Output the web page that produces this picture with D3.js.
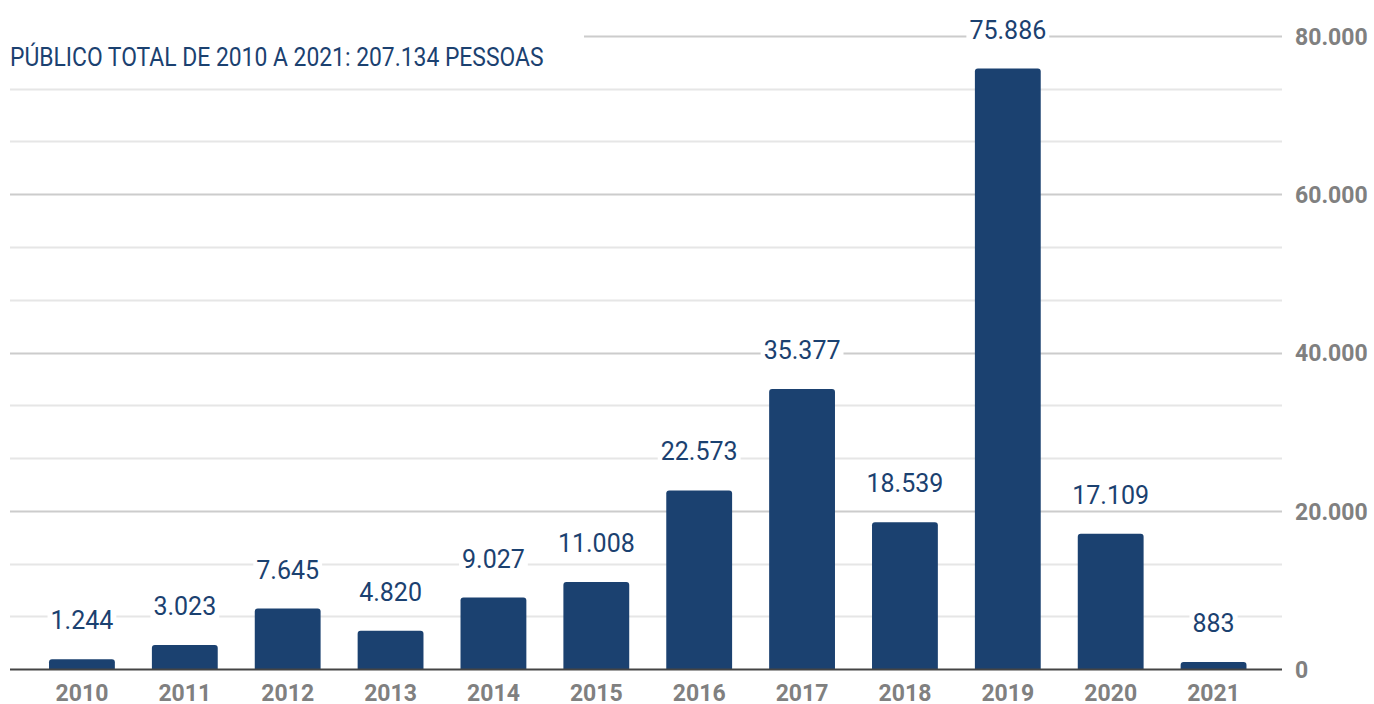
<!DOCTYPE html>
<html><head><meta charset="utf-8">
<script src="https://cdn.jsdelivr.net/npm/d3@7"></script>
<style>body{margin:0;background:#fff}svg{display:block}</style>
</head><body>
<svg id="c" width="1374" height="704"></svg>
<script>
const years = ["2010","2011","2012","2013","2014","2015","2016","2017","2018","2019","2020","2021"];
const values = [1244,3023,7645,4820,9027,11008,22573,35377,18539,75886,17109,883];
const labels = ["1.244","3.023","7.645","4.820","9.027","11.008","22.573","35.377","18.539","75.886","17.109","883"];
const majorTicks = [0,20000,40000,60000,80000];
const tickLabels = ["0","20.000","40.000","60.000","80.000"];
const minorTicks = [20000/3,40000/3,80000/3,100000/3,140000/3,160000/3,200000/3,220000/3];
const title = "PÚBLICO TOTAL DE 2010 A 2021: 207.134 PESSOAS";

const svg = d3.select("#c");
const navy = "#1b4170";
const left = 10, right = 1282;
const y = d3.scaleLinear().domain([0,80000]).range([669,36]);
const x = d3.scaleBand().domain(years).range([30.5,1265]).paddingInner(0.36).paddingOuter(0.18);

// minor gridlines
svg.append("g").selectAll("line").data(minorTicks).join("line")
  .attr("x1",left).attr("x2",right)
  .attr("y1",d=>Math.round(y(d))+0.5).attr("y2",d=>Math.round(y(d))+0.5)
  .attr("stroke","#e6e6e6").attr("stroke-width",2);
// major gridlines
svg.append("g").selectAll("line").data(majorTicks.filter(d=>d>0)).join("line")
  .attr("x1",d=>d===80000?584:left).attr("x2",right)
  .attr("y1",d=>Math.round(y(d))+0.5).attr("y2",d=>Math.round(y(d))+0.5)
  .attr("stroke","#cccccc").attr("stroke-width",2);

// right axis labels
const yAxis = d3.axisRight(y).tickValues(majorTicks).tickSize(0).tickPadding(0)
  .tickFormat((d,i)=>tickLabels[i]);
const ga = svg.append("g").attr("transform",`translate(1295,0)`).call(yAxis);
ga.select(".domain").remove();
ga.selectAll("text").attr("font-family","Roboto").attr("font-weight","bold")
  .attr("font-size",23).attr("fill","#808080").attr("dy","0.36em");

// bars with rounded top
const r = 3;
svg.append("g").selectAll("path").data(values).join("path")
  .attr("fill",navy)
  .attr("d",(d,i)=>{
    const x0=x(years[i]), w=x.bandwidth(), y0=y(d), yb=y(0);
    return `M${x0},${yb}V${y0+r}Q${x0},${y0} ${x0+r},${y0}H${x0+w-r}Q${x0+w},${y0} ${x0+w},${y0+r}V${yb}Z`;
  });

// baseline
svg.append("line").attr("x1",left).attr("x2",right)
  .attr("y1",669.5).attr("y2",669.5).attr("stroke","#444").attr("stroke-width",2);

// value labels with white backing
const lg = svg.append("g");
values.forEach((d,i)=>{
  const cx = x(years[i])+x.bandwidth()/2, by = y(d)-30;
  const t = lg.append("text").attr("x",cx).attr("y",by).attr("text-anchor","middle")
    .attr("font-family","Roboto").attr("font-size",25).attr("fill",navy).text(labels[i]);
  const bb = t.node().getBBox();
  lg.insert("rect","text").attr("x",bb.x-3).attr("y",bb.y+2).attr("width",bb.width+6).attr("height",bb.height-4).attr("fill","#fff");
});

// x labels
const xAxis = d3.axisBottom(x).tickSize(0).tickPadding(0);
const gx = svg.append("g").attr("transform","translate(0,701)").call(xAxis);
gx.select(".domain").remove();
gx.selectAll("text").attr("font-family","Roboto").attr("font-weight","bold")
  .attr("font-size",23).attr("fill","#808080").attr("dy",0);

// title (condensed)
svg.append("text").attr("transform","translate(10,66) scale(0.88,1)")
  .attr("font-family","Roboto").attr("font-size",26).attr("fill",navy).text(title);
</script>
</body></html>
